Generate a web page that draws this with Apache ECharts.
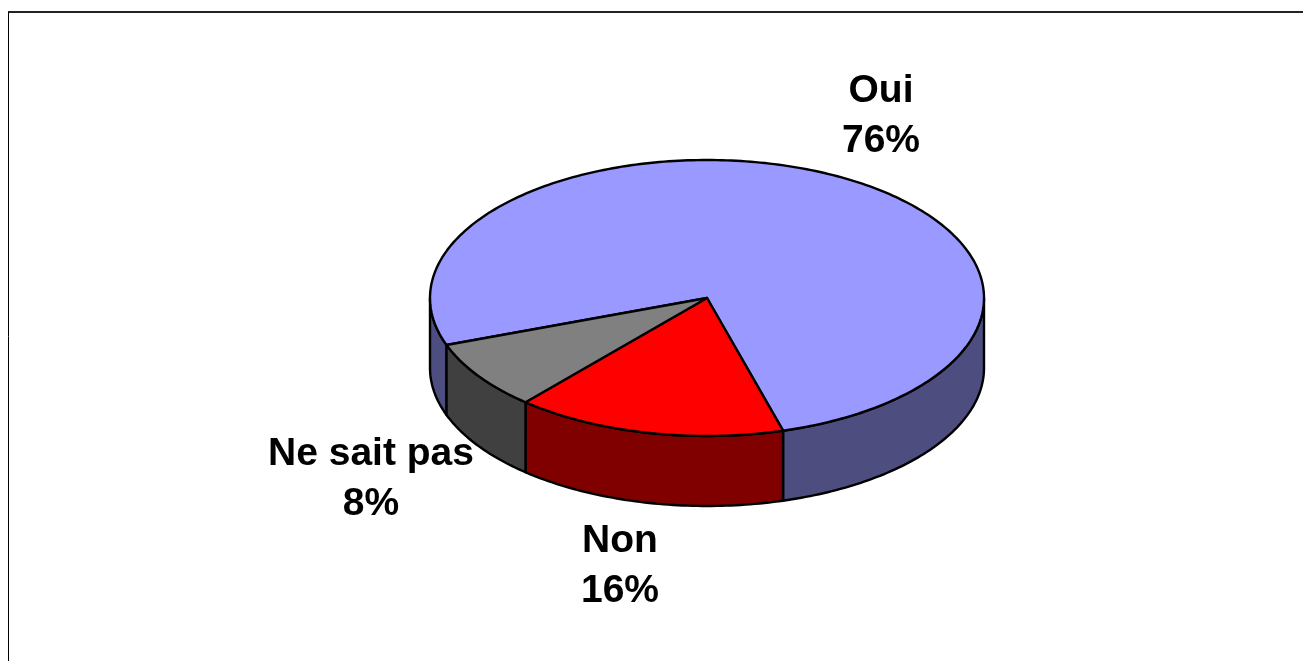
<!DOCTYPE html>
<html>
<head>
<meta charset="utf-8">
<style>
  html, body { margin: 0; padding: 0; background: #fff; overflow: hidden; }
  #chart { width: 1303px; height: 661px; }
</style>
<script src="https://cdn.jsdelivr.net/npm/echarts@6/dist/echarts.min.js"></script>
</head>
<body>
<div id="chart"></div>
<script>
const categories = ['Oui', 'Non', 'Ne sait pas'];
const values = [76.1, 15.8, 8.1];
const topColors = ['#9999ff', '#ff0000', '#808080'];
const wallColors = ['#4d4d80', '#800000', '#404040'];
const labelAnchors = [[881, 116], [620, 566], [371, 479]];

const cx = 707, cy = 298, rx = 277, ry = 138, depth = 70;
const startDeg = 250.1; // clockwise from 12 o'clock
const total = values.reduce((a, b) => a + b, 0);

// point on the ellipse, angle in degrees clockwise from the top
function rim(deg, dy) {
    const r = deg * Math.PI / 180;
    return [cx + rx * Math.sin(r), cy - ry * Math.cos(r) + (dy || 0)];
}

function arc(a0, a1, dy) {
    const pts = [];
    const n = Math.max(2, Math.ceil(Math.abs(a1 - a0)));
    for (let i = 0; i <= n; i++) {
        pts.push(rim(a0 + (a1 - a0) * i / n, dy));
    }
    return pts;
}

function sliceAngles(index) {
    let before = 0;
    for (let i = 0; i < index; i++) before += values[i];
    const a0 = startDeg + before / total * 360;
    return [a0, a0 + values[index] / total * 360];
}

const lineStyle = { stroke: '#000', lineWidth: 2.4, lineJoin: 'round' };

// the front wall shows only between 90 and 270 degrees
function wallParts(a0, a1) {
    const parts = [];
    [90, 450].forEach(function (from) {
        const lo = Math.max(a0, from), hi = Math.min(a1, from + 180);
        if (hi > lo) parts.push([lo, hi]);
    });
    return parts;
}

function renderSlice(params, api) {
    const i = api.value(0);
    const [a0, a1] = sliceAngles(i);
    const children = [];
    wallParts(a0, a1).forEach(function (p) {
        const top = arc(p[0], p[1], 0);
        const bottom = arc(p[1], p[0], depth);
        children.push({
            type: 'polygon',
            shape: { points: top.concat(bottom) },
            style: Object.assign({ fill: wallColors[i] }, lineStyle)
        });
    });
    children.push({
        type: 'polygon',
        shape: { points: [[cx, cy]].concat(arc(a0, a1, 0)) },
        style: Object.assign({ fill: topColors[i] }, lineStyle)
    });
    const pct = Math.round(values[i] / total * 100) + '%';
    children.push({
        type: 'text',
        style: {
            x: labelAnchors[i][0],
            y: labelAnchors[i][1],
            text: categories[i] + '\n' + pct,
            fill: '#000',
            font: 'bold 39px "Liberation Sans", Arial, sans-serif',
            lineHeight: 50,
            align: 'center',
            verticalAlign: 'middle'
        }
    });
    return { type: 'group', children: children };
}

const chart = echarts.init(document.getElementById('chart'), null, { renderer: 'canvas' });
chart.setOption({
    animation: false,
    backgroundColor: '#fff',
    graphic: [{
        type: 'line',
        silent: true,
        shape: { x1: 8, y1: 12, x2: 1303, y2: 12 },
        style: { stroke: '#222', lineWidth: 2 }
    }, {
        type: 'line',
        silent: true,
        shape: { x1: 8.5, y1: 12, x2: 8.5, y2: 661 },
        style: { stroke: '#000', lineWidth: 1 }
    }],
    series: [{
        type: 'custom',
        coordinateSystem: 'none',
        renderItem: renderSlice,
        data: values.map(function (v, i) { return [i, v]; })
    }]
});
</script>
</body>
</html>
